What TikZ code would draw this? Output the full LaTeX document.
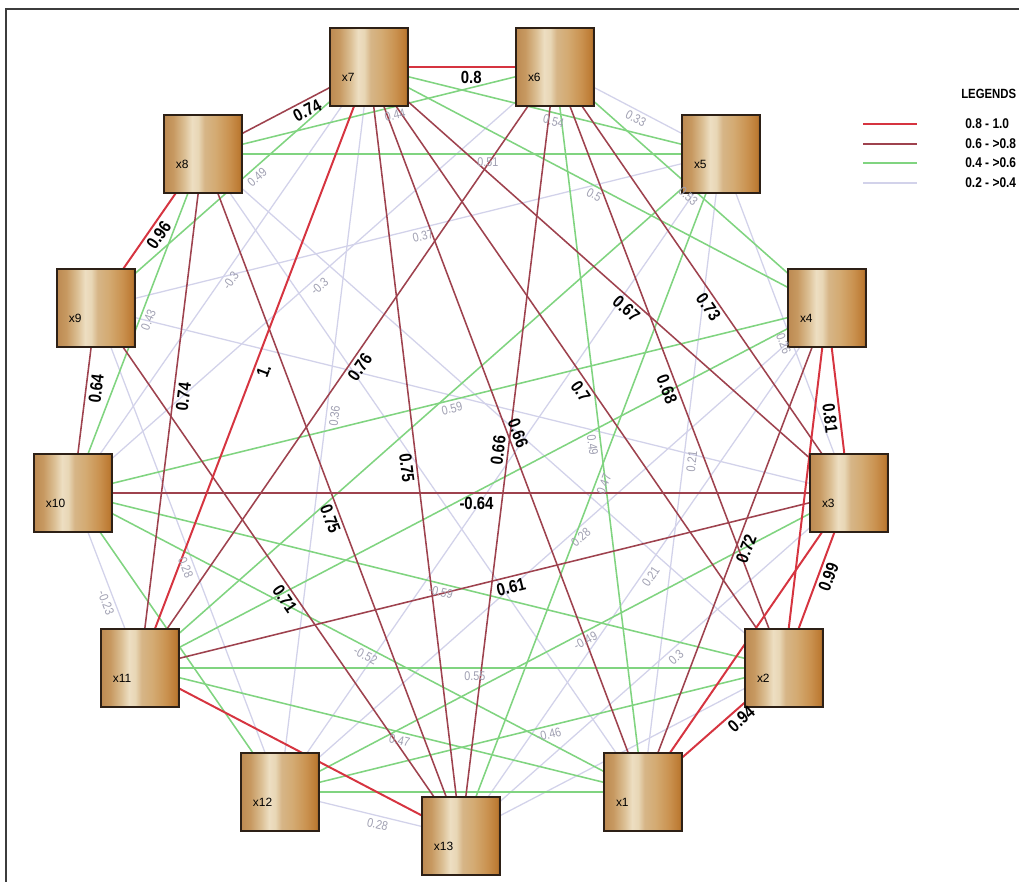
\documentclass[tikz,border=0pt]{standalone}
\usepackage{fontspec}
\setmainfont{Liberation Sans}
\newfontfamily\nsans[FakeStretch=0.85]{Liberation Sans}
\usetikzlibrary{backgrounds}
\definecolor{redE}{RGB}{214,52,64}
\definecolor{brownE}{RGB}{158,66,78}
\definecolor{greenE}{RGB}{128,212,128}
\definecolor{lavE}{RGB}{210,210,234}
\definecolor{greyT}{RGB}{160,160,178}
\definecolor{boxB}{RGB}{45,32,22}
\definecolor{frameC}{RGB}{60,60,60}
\pgfdeclarehorizontalshading{boxshade}{100bp}{rgb(0bp)=(0.74,0.54,0.32); rgb(25bp)=(0.74,0.54,0.32); rgb(31bp)=(0.78,0.6,0.38); rgb(38bp)=(0.86,0.75,0.58); rgb(43bp)=(0.93,0.87,0.76); rgb(47bp)=(0.91,0.84,0.71); rgb(51bp)=(0.84,0.71,0.53); rgb(58bp)=(0.83,0.67,0.45); rgb(67bp)=(0.79,0.57,0.31); rgb(73bp)=(0.74,0.48,0.2); rgb(75bp)=(0.6,0.38,0.16); rgb(100bp)=(0.6,0.38,0.16)}
\newcommand\nodelab[1]{\raisebox{-0.35cm}[0pt][0pt]{#1}}
\newcommand\mklabB[5]{\path (#1.center) -- node[blab,pos=#3,sloped,#4]{#5} (#2.center);}
\newcommand\mklabG[5]{\path (#1.center) -- node[glab,pos=#3,sloped,#4]{#5} (#2.center);}
\tikzset{
 box/.style={draw=boxB, line width=1.3pt, shade, shading=boxshade, minimum width=1.95cm, minimum height=1.95cm, inner xsep=0.3cm, inner ysep=0pt, text width=1.35cm, align=left, font=\fontsize{8.5pt}{10pt}\selectfont},
 rline/.style={draw=redE, line width=1.4pt},
 bline/.style={draw=brownE, line width=1.1pt},
 gline/.style={draw=greenE, line width=1.1pt},
 lline/.style={draw=lavE, line width=0.9pt},
 blab/.style={font=\nsans\bfseries\fontsize{12.5pt}{14pt}\selectfont, inner sep=2.5pt},
 glab/.style={font=\nsans\fontsize{9pt}{10pt}\selectfont, text=greyT, inner sep=2.5pt},
 legtxt/.style={font=\nsans\bfseries\fontsize{10pt}{12pt}\selectfont, anchor=west, inner sep=0pt},
}
\begin{document}
\begin{tikzpicture}[x=0.025cm,y=-0.025cm]
\useasboundingbox (0,0) rectangle (1019,881);
\clip (0,0) rectangle (1019,881);
\draw[frameC, line width=0.9pt] (6,9) rectangle (1040,900);
% nodes
\node[box] (x1) at (643,792) {\nodelab{x1}};
\node[box] (x2) at (784,668) {\nodelab{x2}};
\node[box] (x3) at (849,493) {\nodelab{x3}};
\node[box] (x4) at (827,308) {\nodelab{x4}};
\node[box] (x5) at (721,154) {\nodelab{x5}};
\node[box] (x6) at (555,67) {\nodelab{x6}};
\node[box] (x7) at (369,67) {\nodelab{x7}};
\node[box] (x8) at (203,154) {\nodelab{x8}};
\node[box] (x9) at (96,308) {\nodelab{x9}};
\node[box] (x10) at (73,493) {\nodelab{x10}};
\node[box] (x11) at (140,668) {\nodelab{x11}};
\node[box] (x12) at (280,792) {\nodelab{x12}};
\node[box] (x13) at (461,836) {\nodelab{x13}};
% edges
\begin{scope}[on background layer]
\fill[white] (0,0) rectangle (1019,881);
% 0.2 - 0.4
\foreach \a/\b in {x6/x5,x9/x5,x10/x7,x10/x6,x7/x12,x9/x12,x10/x11,x12/x13,x3/x13,x4/x13,x4/x12,x5/x1,x5/x3,x8/x2,x8/x1,x12/x5,x13/x2,x9/x3}
  \draw[lline] (\a.center) -- (\b.center);
% 0.4 - 0.6
\foreach \a/\b in {x8/x6,x7/x5,x8/x5,x7/x4,x6/x4,x7/x9,x8/x10,x6/x1,x5/x13,x10/x4,x11/x2,x10/x1,x10/x2,x3/x12,x2/x12,x11/x1,x11/x5,x11/x4,x10/x12,x12/x1}
  \draw[gline] (\a.center) -- (\b.center);
% 0.6 - 0.8
\foreach \a/\b in {x7/x8,x9/x10,x8/x11,x6/x11,x7/x13,x8/x13,x6/x13,x7/x1,x7/x2,x7/x3,x6/x3,x6/x2,x10/x3,x11/x3,x1/x4,x9/x13}
  \draw[bline] (\a.center) -- (\b.center);
% 0.8 - 1.0
\foreach \a/\b in {x7/x6,x8/x9,x7/x11,x4/x3,x3/x2,x2/x1,x11/x13,x4/x2,x3/x1}
  \draw[rline] (\a.center) -- (\b.center);
\end{scope}
% strong labels
\mklabB{x7}{x6}{.55}{below}{0.8}
\mklabB{x8}{x9}{.49}{below}{0.96}
\mklabB{x7}{x11}{.50}{below}{1.}
\mklabB{x4}{x3}{.59}{below}{0.81}
\mklabB{x3}{x2}{.46}{below}{0.99}
\mklabB{x2}{x1}{.35}{below}{0.94}
\mklabB{x7}{x8}{.40}{below}{0.74}
\mklabB{x9}{x10}{.43}{below}{0.64}
\mklabB{x8}{x11}{.47}{below}{0.74}
\mklabB{x6}{x11}{.49}{below}{0.76}
\mklabB{x7}{x13}{.52}{below}{0.75}
\mklabB{x8}{x13}{.53}{below}{0.75}
\mklabB{x6}{x13}{.50}{above}{0.66}
\mklabB{x7}{x1}{.51}{above}{0.66}
\mklabB{x7}{x2}{.53}{below}{0.7}
\mklabB{x7}{x3}{.55}{below}{0.67}
\mklabB{x6}{x3}{.55}{below}{0.73}
\mklabB{x6}{x2}{.53}{below}{0.68}
\mklabB{x10}{x3}{.52}{below}{-0.64}
\mklabB{x11}{x3}{.52}{below}{0.61}
\mklabB{x1}{x4}{.51}{below}{0.72}
\mklabB{x9}{x13}{.54}{below}{0.71}
% weak labels
\mklabG{x8}{x6}{.54}{below}{0.44}
\mklabG{x7}{x5}{.53}{below}{0.54}
\mklabG{x8}{x5}{.55}{below}{0.51}
\mklabG{x7}{x4}{.50}{below}{0.5}
\mklabG{x6}{x4}{.51}{below}{0.53}
\mklabG{x7}{x9}{.43}{below}{0.49}
\mklabG{x8}{x10}{.48}{below}{0.43}
\mklabG{x6}{x1}{.52}{below}{0.49}
\mklabG{x5}{x13}{.48}{below}{0.47}
\mklabG{x10}{x4}{.50}{below}{0.59}
\mklabG{x11}{x2}{.52}{below}{0.55}
\mklabG{x10}{x1}{.52}{below}{-0.52}
\mklabG{x10}{x2}{.52}{below}{-0.59}
\mklabG{x3}{x12}{.47}{below}{-0.49}
\mklabG{x2}{x12}{.47}{below}{-0.46}
\mklabG{x11}{x1}{.52}{below}{0.47}
\mklabG{x6}{x5}{.51}{below}{0.33}
\mklabG{x9}{x5}{.52}{below}{0.37}
\mklabG{x10}{x7}{.51}{below}{-0.3}
\mklabG{x10}{x6}{.50}{below}{-0.3}
\mklabG{x7}{x12}{.48}{below}{0.36}
\mklabG{x9}{x12}{.53}{below}{0.28}
\mklabG{x10}{x11}{.61}{below}{-0.23}
\mklabG{x12}{x13}{.55}{below}{0.28}
\mklabG{x3}{x13}{.46}{below}{0.3}
\mklabG{x4}{x13}{.50}{below}{0.21}
\mklabG{x4}{x12}{.46}{below}{0.28}
\mklabG{x5}{x1}{.48}{below}{0.21}
\mklabG{x5}{x3}{.55}{below}{0.26}
% legend
\node[legtxt, font=\nsans\bfseries\fontsize{9.5pt}{11pt}\selectfont] (legT) at (961,94) {LEGENDS};
\coordinate (l1a) at (863,124); \coordinate (l1b) at (917,124);
\coordinate (l2a) at (863,144); \coordinate (l2b) at (917,144);
\coordinate (l3a) at (863,163); \coordinate (l3b) at (917,163);
\coordinate (l4a) at (863,183); \coordinate (l4b) at (917,183);
\draw[rline] (l1a) -- (l1b);
\draw[bline] (l2a) -- (l2b);
\draw[gline] (l3a) -- (l3b);
\draw[lline] (l4a) -- (l4b);
\node[legtxt] (leg1) at (965,124) {0.8 - 1.0};
\node[legtxt] (leg2) at (965,144) {0.6 - >0.8};
\node[legtxt] (leg3) at (965,163) {0.4 - >0.6};
\node[legtxt] (leg4) at (965,183) {0.2 - >0.4};
\end{tikzpicture}
\end{document}
